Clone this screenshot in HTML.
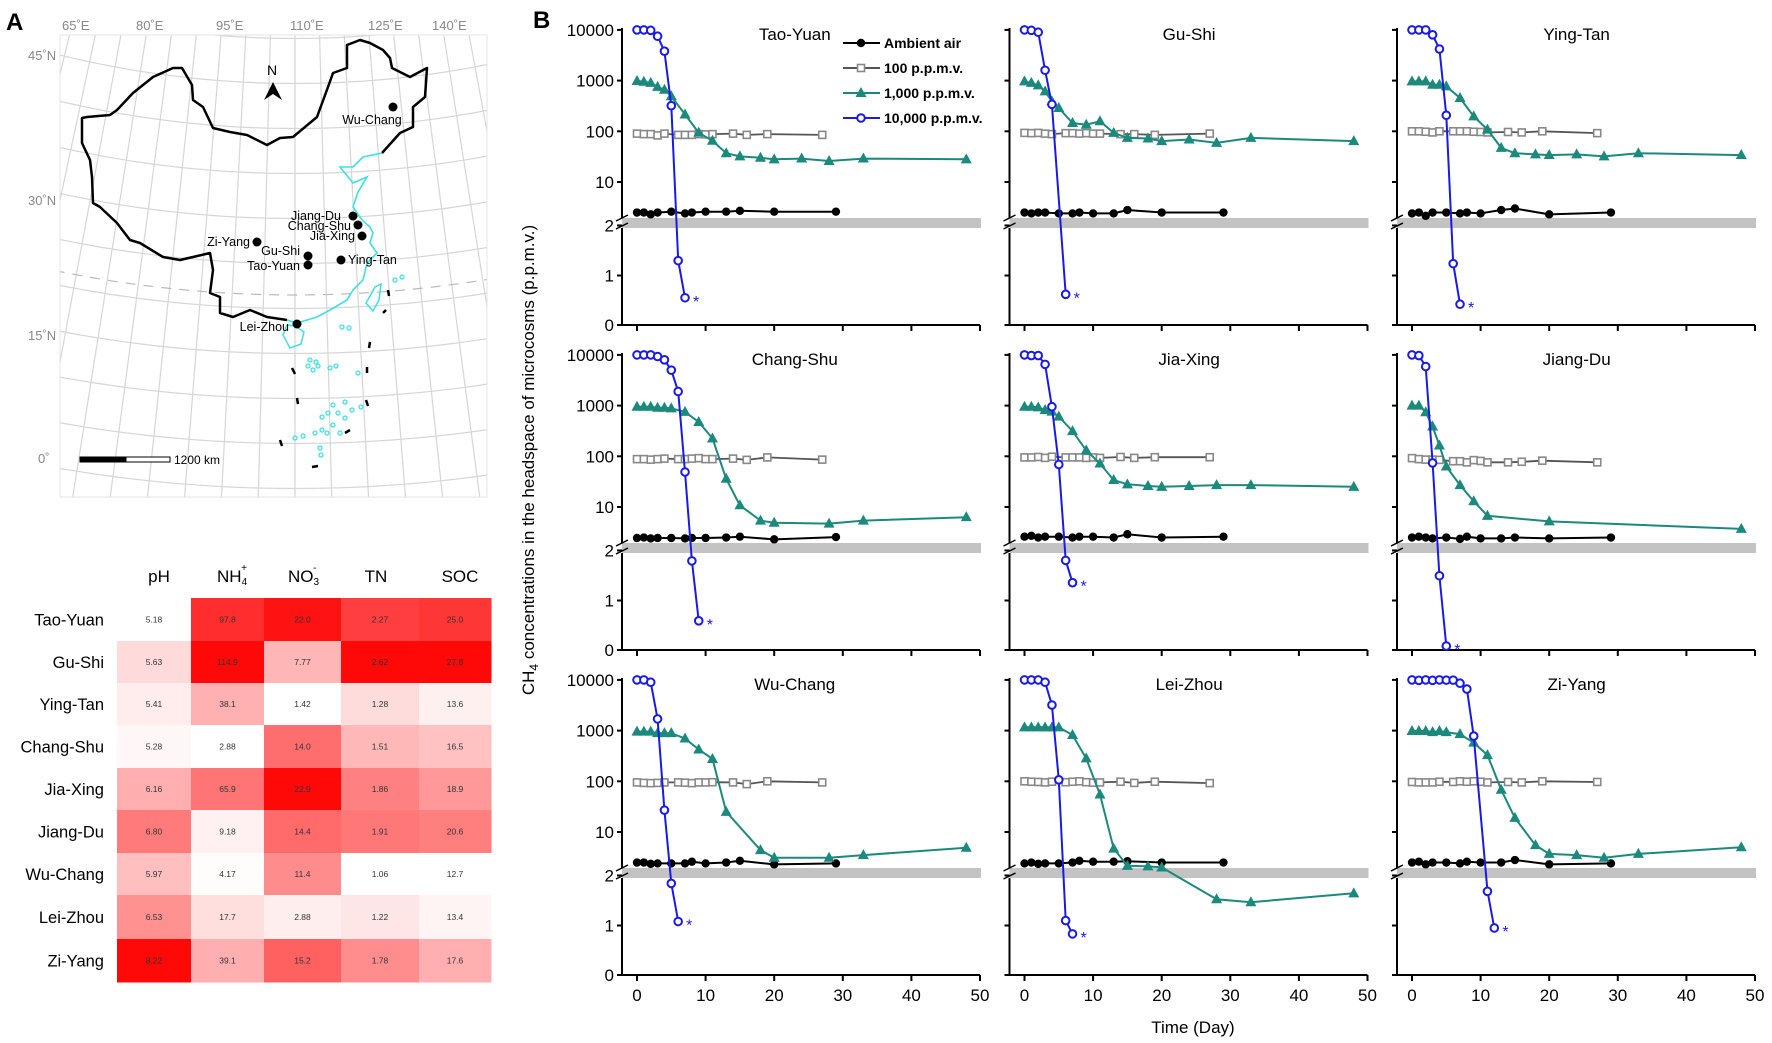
<!DOCTYPE html>
<html><head><meta charset="utf-8"><style>
html,body{margin:0;padding:0;background:#fff;}
svg{display:block;font-family:"Liberation Sans",Arial,sans-serif;}
</style></head><body>
<svg id="fig" width="1772" height="1043" viewBox="0 0 1772 1043" xmlns="http://www.w3.org/2000/svg">
<rect width="1772" height="1043" fill="#fff"/>
<text x="6" y="30" font-size="24" font-weight="bold">A</text>
<text x="533" y="28" font-size="24" font-weight="bold">B</text>
<g id="map">
  <defs><clipPath id="mapclip"><rect x="60" y="35" width="427" height="462"/></clipPath></defs>
  <g id="grid" clip-path="url(#mapclip)"></g>
  <rect x="60" y="35" width="427" height="462" fill="none" stroke="#e4e4e4" stroke-width="1"/>
  <g font-size="13" fill="#888">
    <text x="62" y="30">65˚E</text><text x="136" y="30">80˚E</text><text x="216" y="30">95˚E</text>
    <text x="290" y="30">110˚E</text><text x="368" y="30">125˚E</text><text x="432" y="30">140˚E</text>
  </g>
  <g font-size="13" fill="#888">
    <text x="28" y="60">45˚N</text><text x="28" y="205">30˚N</text><text x="28" y="340">15˚N</text><text x="38" y="463">0˚</text>
  </g>
  <polyline fill="none" stroke="#000" stroke-width="2.5" stroke-linejoin="round"
    points="287,320 267,317 250,310 233,317 220,313 220,297 210,293 213,270 210,253 193,257 180,260 163,257 140,243 130,240 117,223 100,207 93,203 92,177 90,160 82,143 82,118 87,117 110,115 117,110 133,93 153,77 173,68 182,68 192,85 193,100 203,107 213,128 230,132 247,135 267,145 280,138 293,137 317,117 328,87 333,73 347,68 347,45 360,40 370,43 383,50 390,58 392,68 410,77 427,68 425,97 413,107 413,127 400,133 382,153"/>
  <polyline fill="none" stroke="#3fe0e0" stroke-width="1.6"
    points="382,153 363,157 353,167 340,167 353,183 367,177 358,192 353,207 362,220 370,227 373,233 370,243 377,253 367,263 363,280 353,290 347,300 330,310 317,317 297,323 287,320"/>
  <polygon fill="none" stroke="#3fe0e0" stroke-width="1.5" points="287,325 283,335 290,348 301,344 304,332 295,326"/>
  <polygon fill="none" stroke="#3fe0e0" stroke-width="1.5" points="375,287 381,284 379,300 373,311 366,303"/>
  <g id="islands" fill="none" stroke="#3fe0e0" stroke-width="1.3"></g>
  <g stroke="#000" stroke-width="2.5">
    <line x1="388" y1="290" x2="389" y2="296"/><line x1="383" y1="313" x2="386" y2="310"/><line x1="370" y1="342" x2="369" y2="348"/>
    <line x1="292" y1="368" x2="295" y2="374"/><line x1="367" y1="367" x2="367" y2="373"/><line x1="297" y1="398" x2="298" y2="404"/>
    <line x1="366" y1="400" x2="368" y2="406"/><line x1="345" y1="433" x2="350" y2="430"/><line x1="280" y1="440" x2="282" y2="446"/>
    <line x1="312" y1="467" x2="318" y2="466"/>
  </g>
  <g>
    <text x="267" y="75" font-size="14">N</text>
    <polygon points="273,82 264,100 273,94 282,100" fill="#000"/>
  </g>
  <g id="sites" font-size="12.5"></g>
  <g>
    <rect x="80" y="457" width="46" height="5" fill="#000" stroke="#000"/>
    <rect x="126" y="457" width="44" height="5" fill="#fff" stroke="#000"/>
    <text x="174" y="464" font-size="12">1200 km</text>
  </g>
</g>
<g id="heat"></g>
<g id="charts"></g>
<text transform="translate(534,460) rotate(-90)" text-anchor="middle" font-size="17">CH<tspan font-size="12" dy="4">4</tspan><tspan dy="-4"> concentrations in the headspace of microcosms (p.p.m.v.)</tspan></text>
<text x="1193" y="1033" text-anchor="middle" font-size="17">Time (Day)</text>
</svg>
<script>
// ---------- heatmap data ----------
const heatRows = ['Tao-Yuan','Gu-Shi','Ying-Tan','Chang-Shu','Jia-Xing','Jiang-Du','Wu-Chang','Lei-Zhou','Zi-Yang'];
const phVals  = [5.18,5.63,5.41,5.28,6.16,6.80,5.97,6.53,8.22];
const nh4Vals = [97.8,114.9,38.1,2.88,65.9,9.18,4.17,17.7,39.1];
const no3Vals = [22.0,7.77,1.42,14.0,22.9,14.4,11.4,2.88,15.2];
const tnVals  = [2.27,2.62,1.28,1.51,1.86,1.91,1.06,1.22,1.78];
const socVals = [25.0,27.8,13.6,16.5,18.9,20.6,12.7,13.4,17.6];
const phLabels  = ['5.18','5.63','5.41','5.28','6.16','6.80','5.97','6.53','8.22'];
const nh4Labels = ['97.8','114.9','38.1','2.88','65.9','9.18','4.17','17.7','39.1'];
const no3Labels = ['22.0','7.77','1.42','14.0','22.9','14.4','11.4','2.88','15.2'];
const tnLabels  = ['2.27','2.62','1.28','1.51','1.86','1.91','1.06','1.22','1.78'];
const socLabels = ['25.0','27.8','13.6','16.5','18.9','20.6','12.7','13.4','17.6'];

// ---------- chart data ----------
const siteNames = ['Tao-Yuan','Gu-Shi','Ying-Tan','Chang-Shu','Jia-Xing','Jiang-Du','Wu-Chang','Lei-Zhou','Zi-Yang'];
const blueDays = [[0,1,2,3,4,5,6,7],[0,1,2,3,4,6],[0,1,2,3,4,5,6,7],[0,1,2,3,4,5,6,7,8,9],[0,1,2,3,4,5,6,7],[0,1,2,3,4,5],[0,1,2,3,4,5,6],[0,1,2,3,4,5,6,7],[0,1,2,3,4,5,6,7,8,9,11,12]];
const blueVals = [
 [10000,10000,9800,7500,3800,320,1.3,0.55],
 [10000,9800,9000,1600,340,0.62],
 [10000,10000,10000,8000,4200,207,1.24,0.42],
 [10000,10000,10000,9300,8000,5000,1900,49,1.8,0.59],
 [10000,9700,9700,6500,950,69,1.81,1.36],
 [10000,9700,5900,74,1.5,0.08],
 [10000,10000,9000,1700,27,1.85,1.08],
 [10000,10000,10000,9000,3200,107,1.1,0.83],
 [10000,9800,10000,9800,10000,9900,9900,8600,6600,780,1.69,0.95]];
const greenDays = [
 [0,1,2,3,4,5,7,9,11,13,15,18,20,24,28,33,48],
 [0,1,2,3,4,5,7,9,11,13,15,18,20,24,28,33,48],
 [0,1,2,3,4,5,7,9,11,13,15,18,20,24,28,33,48],
 [0,1,2,3,4,5,7,9,11,13,15,18,20,28,33,48],
 [0,1,2,3,4,5,7,9,11,13,15,18,20,24,28,33,48],
 [0,1,2,3,4,5,7,9,11,20,48],
 [0,1,2,3,4,5,7,9,11,13,18,20,28,33,48],
 [0,1,2,3,4,5,7,9,11,13,15,18,20,28,33,48],
 [0,1,2,3,4,5,7,9,11,13,15,18,20,24,28,33,48]];
const greenVals = [
 [980,950,900,750,660,490,215,94,65,37,32,30,28,29,26,29,28],
 [963,900,804,612,389,288,146,135,158,93,74,72,64,69,59,74,64],
 [963,963,963,830,830,770,453,197,108,47,37,35,34,35,32,37,34],
 [951,951,951,907,907,880,752,475,225,36,10.8,5.4,4.9,4.7,5.4,6.3],
 [951,951,922,818,760,607,314,131,72,34,28,26,25,26,27,27,25],
 [1000,1000,740,387,163,63,27,13,6.7,5.2,3.7],
 [955,955,955,890,890,890,700,425,276,25,4.4,3.1,3.1,3.5,4.9],
 [1160,1160,1160,1160,1160,1160,820,283,55,4.7,2.15,2.1,2.0,1.53,1.47,1.65],
 [980,980,980,935,980,935,850,578,329,68,19,5.5,3.7,3.5,3.1,3.7,5]];
const grayDays = [0,1,2,3,4,6,7,8,9,10,11,14,16,19,27];
const grayVals = [
 [90,88,88,83,90,85,85,85,88,87,88,90,85,88,85],
 [93,92,93,90,88,92,92,90,92,90,90,88,88,85,90],
 [100,100,98,95,100,100,100,100,98,97,95,97,95,100,92],
 [88,88,86,88,90,88,88,90,92,88,88,90,85,95,86],
 [95,95,97,93,98,95,95,95,93,95,93,97,93,96,96],
 [92,88,86,86,85,80,80,76,84,81,76,76,78,82,76],
 [95,93,92,93,95,95,94,92,95,95,96,95,88,100,95],
 [100,98,97,95,98,96,98,100,96,94,95,98,93,98,92],
 [97,95,95,95,98,97,100,98,100,98,95,97,95,100,97]];
const blackDays = [0,1,2,3,5,7,8,10,13,15,20,29];
const blackVals = [
 [2.5,2.5,2.3,2.5,2.6,2.4,2.5,2.6,2.6,2.7,2.6,2.6],
 [2.5,2.4,2.5,2.5,2.4,2.4,2.5,2.4,2.4,2.8,2.5,2.5],
 [2.4,2.5,2.15,2.5,2.5,2.4,2.5,2.4,2.8,3.0,2.3,2.5],
 [2.45,2.5,2.4,2.45,2.45,2.4,2.45,2.45,2.5,2.6,2.3,2.55],
 [2.6,2.7,2.5,2.6,2.6,2.5,2.6,2.6,2.5,2.9,2.5,2.6],
 [2.5,2.6,2.5,2.4,2.5,2.35,2.6,2.4,2.4,2.5,2.4,2.5],
 [2.5,2.5,2.35,2.4,2.4,2.4,2.6,2.4,2.5,2.7,2.3,2.4],
 [2.4,2.5,2.35,2.4,2.4,2.5,2.7,2.6,2.6,2.65,2.5,2.5],
 [2.5,2.6,2.3,2.5,2.5,2.4,2.6,2.5,2.5,2.8,2.3,2.4]];
const yTickVals = [10000,1000,100,10,2,1,0];
const yTickLabels = ['10000','1000','100','10','2','1','0'];
const xTickVals = [0,10,20,30,40,50];
const legendLabels = ['Ambient air','100 p.p.m.v.','1,000 p.p.m.v.','10,000 p.p.m.v.'];

// map site data (lon/lat-ish placed in map pixel space)
const mapSites = ['Wu-Chang','Jiang-Du','Chang-Shu','Jia-Xing','Zi-Yang','Gu-Shi','Tao-Yuan','Ying-Tan','Lei-Zhou'];

const NS = 'http://www.w3.org/2000/svg';
function mk(tag, attrs, parent){const e=document.createElementNS(NS,tag);for(const k in attrs)e.setAttribute(k,attrs[k]);if(parent)parent.appendChild(e);return e;}

// ---------- map graticule ----------
(function(){
  const g=document.getElementById('grid');
  const cx=295, cy=-900;
  const R=lat=>983.5+(45-lat)*9;
  const k=0.00526;
  for(let lat=-10;lat<=55;lat+=5){
    const r=R(lat); let d='';
    for(let lon=40;lon<=180;lon+=2){const t=(lon-110)*k;const x=cx+r*Math.sin(t),y=cy+r*Math.cos(t);d+=(d?'L':'M')+x.toFixed(1)+','+y.toFixed(1);}
    const p=mk('path',{d:d,fill:'none',stroke:'#d6d6d6','stroke-width':1.2},g);
    
    
  }
  for(let lon=40;lon<=180;lon+=5){
    const t=(lon-110)*k;
    const p=mk('line',{x1:cx+R(60)*Math.sin(t),y1:cy+R(60)*Math.cos(t),x2:cx+R(-15)*Math.sin(t),y2:cy+R(-15)*Math.cos(t),stroke:'#d6d6d6','stroke-width':1.2},g);
    
    
  }
  let d='';const r=R(21.5);
  for(let lon=40;lon<=180;lon+=2){const t=(lon-110)*k;d+=(d?'L':'M')+(cx+r*Math.sin(t)).toFixed(1)+','+(cy+r*Math.cos(t)).toFixed(1);}
  const tp=mk('path',{d:d,fill:'none',stroke:'#bbb','stroke-width':1.2,'stroke-dasharray':'10,8'},g);
  
  

  const isl=document.getElementById('islands');
  const pts=[[395,280],[402,277],[342,327],[349,328],[310,360],[316,362],[308,366],[313,370],[318,366],[330,368],[336,366],[358,373],[333,405],[345,402],[352,410],[361,407],[328,413],[338,413],[322,417],[345,418],[333,425],[322,430],[315,433],[303,436],[295,438],[327,433],[340,433],[320,448],[321,455]];
  pts.forEach(p=>{const c=mk('circle',{cx:p[0],cy:p[1],r:2},isl);
    
    });

  const sg=document.getElementById('sites');
  const pos=[[393,107],[353,216],[358,225],[362,236],[257,242],[308,256],[308,265],[341,260],[297,324]];
  const lab=[[372,124,'middle'],[341,220,'end'],[351,230,'end'],[355,240,'end'],[250,246,'end'],[300,255,'end'],[300,270,'end'],[348,264,'start'],[289,331,'end']];
  mapSites.forEach((s,i)=>{
    const c=mk('circle',{cx:pos[i][0],cy:pos[i][1],r:4.5,fill:'#000'},sg);
    
    
    const t=mk('text',{x:lab[i][0],y:lab[i][1],'text-anchor':lab[i][2]},sg);
    t.textContent=s;
    
    
  });
})();

// ---------- heatmap ----------
(function(){
  const g=document.getElementById('heat');
  const colX=[117,191,264,341,419,491];
  const rowY=[598,641,683,725,768,810,853,895,939,982];
  const cols=[phVals,nh4Vals,no3Vals,tnVals,socVals];
  const labs=[phLabels,nh4Labels,no3Labels,tnLabels,socLabels];
  cols.forEach((vals,c)=>{
    const mn=Math.min(...vals),mx=Math.max(...vals);
    vals.forEach((v,r)=>{
      const t=(v-mn)/(mx-mn);const gb=Math.round(255*(1-0.97*t));
      const rc=mk('rect',{x:colX[c],y:rowY[r],width:colX[c+1]-colX[c]+0.5,height:rowY[r+1]-rowY[r]+0.5,fill:`rgb(255,${gb},${gb})`},g);
      
      
      const tx=mk('text',{x:(colX[c]+colX[c+1])/2,y:(rowY[r]+rowY[r+1])/2+3,'text-anchor':'middle','font-size':8.5,fill:'#333'},g);
      tx.textContent=labs[c][r];
      
      
    });
  });
  heatRows.forEach((n,r)=>{
    const t=mk('text',{x:104,y:(rowY[r]+rowY[r+1])/2+6,'text-anchor':'end','font-size':16.5},g);
    t.textContent=n;
    
    
  });
  const hdr=mk('g',{'font-size':17},g);
  
  
  hdr.innerHTML='<text x="159" y="582" text-anchor="middle">pH</text>'+
   '<text x="217" y="582">NH<tspan font-size="10" dy="3">4</tspan><tspan font-size="10" dx="-6" dy="-14">+</tspan></text>'+
   '<text x="288" y="582">NO<tspan font-size="10" dy="3">3</tspan><tspan font-size="10" dx="-6" dy="-14">-</tspan></text>'+
   '<text x="376" y="582" text-anchor="middle">TN</text>'+
   '<text x="460" y="582" text-anchor="middle">SOC</text>';
})();

// ---------- charts ----------
(function(){
  const root=document.getElementById('charts');
  const day0=[637,1024.5,1412], pxDay=6.86;
  const xS=(c,d)=>day0[c]+d*pxDay;
  function yS(r,v){const base=325+r*325; if(v>=2) return base-143-(Math.log10(v)-1)*50.7; return base-v*49.5;}
  const pathOf=(c,r,ds,vs)=>ds.map((d,i)=>(i?'L':'M')+xS(c,d).toFixed(1)+','+yS(r,vs[i]).toFixed(1)).join('');
  siteNames.forEach((name,i)=>{
    const c=i%3, r=Math.floor(i/3), base=325+r*325, ax=day0[c]-15;
    const g=mk('g',{},root);
    
    
    // gray break band
    const band=mk('rect',{x:ax,y:base-107,width:xS(c,50)-ax+1,height:10,fill:'#c3c3c3'},g);
    
    
    // axes
    const ya=mk('path',{d:`M${ax},${base-297}V${base-107}M${ax},${base-97}V${base}H${xS(c,50)}`,fill:'none',stroke:'#000','stroke-width':2},g);
    
    
    const brk=mk('path',{d:`M${ax-6},${base-104}L${ax+6},${base-110}M${ax-6},${base-96}L${ax+6},${base-102}`,stroke:'#000','stroke-width':1.5,fill:'none'},g);
    
    
    yTickVals.forEach((v,k)=>{
      const y=yS(r,v)+(v===2?8:0);
      const t=mk('line',{x1:ax-5,x2:ax,y1:y,y2:y,stroke:'#000','stroke-width':2},g);
      
      
      if(c===0){const tl=mk('text',{x:ax-8,y:y+6,'text-anchor':'end','font-size':17},g);
        tl.textContent=yTickLabels[k];
        
        }
    });
    xTickVals.forEach(d=>{
      const t=mk('line',{x1:xS(c,d),x2:xS(c,d),y1:base,y2:base+6,stroke:'#000','stroke-width':2},g);
      
      
      if(r===2){const tl=mk('text',{x:xS(c,d),y:base+26,'text-anchor':'middle','font-size':17},g);
        tl.textContent=String(d);
        
        }
    });
    const title=mk('text',{x:xS(c,c===0?23:24),y:base-285,'text-anchor':'middle','font-size':17},g);
    title.textContent=name;
    
    
    // series: gray
    const gl=mk('path',{d:pathOf(c,r,grayDays,grayVals[i]),fill:'none',stroke:'#555','stroke-width':1.8},g);
    
    
    grayDays.forEach((d,k)=>{const m=mk('rect',{x:xS(c,d)-3.5,y:yS(r,grayVals[i][k])-3.5,width:7,height:7,fill:'#fff',stroke:'#888','stroke-width':1.6},g);
      
      });
    // black
    const bl=mk('path',{d:pathOf(c,r,blackDays,blackVals[i]),fill:'none',stroke:'#000','stroke-width':2},g);
    
    
    blackDays.forEach((d,k)=>{const m=mk('circle',{cx:xS(c,d),cy:yS(r,blackVals[i][k]),r:4.2,fill:'#000'},g);
      
      });
    // green
    const gd=greenDays[i], gv=greenVals[i];
    const tl=mk('path',{d:pathOf(c,r,gd,gv),fill:'none',stroke:'#1b8a7c','stroke-width':2},g);
    
    
    gd.forEach((d,k)=>{const x=xS(c,d),y=yS(r,gv[k]);
      const m=mk('polygon',{points:`${x},${y-6} ${x-5.5},${y+4} ${x+5.5},${y+4}`,fill:'#1b8a7c'},g);
      
      });
    // blue
    const bd=blueDays[i], bv=blueVals[i];
    const ul=mk('path',{d:pathOf(c,r,bd,bv),fill:'none',stroke:'#1a1ae6','stroke-width':2},g);
    
    
    bd.forEach((d,k)=>{const m=mk('circle',{cx:xS(c,d),cy:yS(r,bv[k]),r:3.8,fill:'#fff',stroke:'#1a1ae6','stroke-width':2},g);
      
      });
    const last=bd.length-1;
    const st=mk('text',{x:xS(c,bd[last])+8,y:yS(r,bv[last])+9,'font-size':16,fill:'#1a1ae6'},g);
    st.textContent='*';
    
    
  });
  // legend
  const lg=mk('g',{},root);
  
  
  const cols=['#000','#888','#1b8a7c','#1a1ae6'];
  legendLabels.forEach((lab,k)=>{
    const y=43+k*25, x1=843, x2=880, xm=861;
    const ln=mk('line',{x1:x1,x2:x2,y1:y,y2:y,stroke:k===1?'#555':cols[k],'stroke-width':2},lg);
    
    
    let m;
    if(k===0) m=mk('circle',{cx:xm,cy:y,r:4.2,fill:'#000'},lg);
    else if(k===1) m=mk('rect',{x:xm-3.5,y:y-3.5,width:7,height:7,fill:'#fff',stroke:'#888','stroke-width':1.6},lg);
    else if(k===2) m=mk('polygon',{points:`${xm},${y-6} ${xm-5.5},${y+4} ${xm+5.5},${y+4}`,fill:'#1b8a7c'},lg);
    else m=mk('circle',{cx:xm,cy:y,r:3.8,fill:'#fff',stroke:'#1a1ae6','stroke-width':2},lg);
    
    
    const t=mk('text',{x:884,y:y+5,'font-size':14,'font-weight':'bold'},lg);
    t.textContent=lab;
    
    
  });
})();
</script>
</body></html>
